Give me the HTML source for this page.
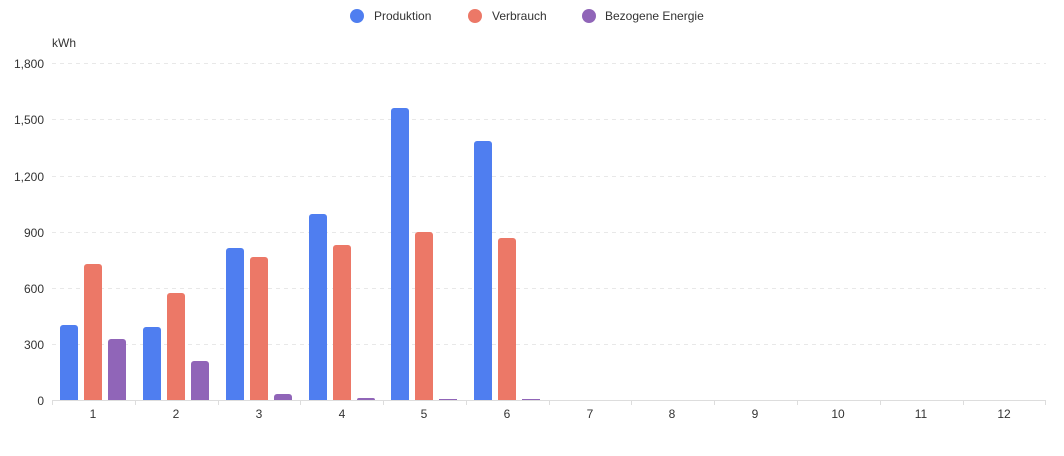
<!DOCTYPE html>
<html><head><meta charset="utf-8"><style>body{margin:0;background:#fff}svg{display:block}text{font-family:"Liberation Sans",sans-serif;font-size:12px;fill:#333}</style></head>
<body>
<svg width="1064" height="456" xmlns="http://www.w3.org/2000/svg">
<g stroke="#e8e8e8" stroke-dasharray="4,4">
<line x1="52" x2="1046" y1="63.5" y2="63.5"/><line x1="52" x2="1046" y1="119.5" y2="119.5"/><line x1="52" x2="1046" y1="176.5" y2="176.5"/><line x1="52" x2="1046" y1="232.5" y2="232.5"/><line x1="52" x2="1046" y1="288.5" y2="288.5"/><line x1="52" x2="1046" y1="344.5" y2="344.5"/>
</g>
<g text-anchor="end">
<text x="44" y="68">1,800</text><text x="44" y="124">1,500</text><text x="44" y="181">1,200</text><text x="44" y="237">900</text><text x="44" y="293">600</text><text x="44" y="349">300</text><text x="44" y="405">0</text>
</g>
<text x="52" y="47">kWh</text>
<g text-anchor="middle">
<text x="93" y="418">1</text><text x="176" y="418">2</text><text x="259" y="418">3</text><text x="342" y="418">4</text><text x="424" y="418">5</text><text x="507" y="418">6</text><text x="590" y="418">7</text><text x="672" y="418">8</text><text x="755" y="418">9</text><text x="838" y="418">10</text><text x="921" y="418">11</text><text x="1004" y="418">12</text>
</g>
<g fill="#4f7ef0">
<path d="M60,400V328a3,3 0 0 1 3,-3h12a3,3 0 0 1 3,3V400z"/>
<path d="M143,400V330a3,3 0 0 1 3,-3h12a3,3 0 0 1 3,3V400z"/>
<path d="M226,400V251a3,3 0 0 1 3,-3h12a3,3 0 0 1 3,3V400z"/>
<path d="M309,400V217a3,3 0 0 1 3,-3h12a3,3 0 0 1 3,3V400z"/>
<path d="M391,400V111a3,3 0 0 1 3,-3h12a3,3 0 0 1 3,3V400z"/>
<path d="M474,400V144a3,3 0 0 1 3,-3h12a3,3 0 0 1 3,3V400z"/>
</g>
<g fill="#ec7867">
<path d="M84,400V267a3,3 0 0 1 3,-3h12a3,3 0 0 1 3,3V400z"/>
<path d="M167,400V296a3,3 0 0 1 3,-3h12a3,3 0 0 1 3,3V400z"/>
<path d="M250,400V260a3,3 0 0 1 3,-3h12a3,3 0 0 1 3,3V400z"/>
<path d="M333,400V248a3,3 0 0 1 3,-3h12a3,3 0 0 1 3,3V400z"/>
<path d="M415,400V235a3,3 0 0 1 3,-3h12a3,3 0 0 1 3,3V400z"/>
<path d="M498,400V241a3,3 0 0 1 3,-3h12a3,3 0 0 1 3,3V400z"/>
</g>
<g fill="#9065b8">
<path d="M108,400V342a3,3 0 0 1 3,-3h12a3,3 0 0 1 3,3V400z"/>
<path d="M191,400V364a3,3 0 0 1 3,-3h12a3,3 0 0 1 3,3V400z"/>
<path d="M274,400V397a3,3 0 0 1 3,-3h12a3,3 0 0 1 3,3V400z"/>
<path d="M357,400V400a2,2 0 0 1 2,-2h14a2,2 0 0 1 2,2V400z"/>
<rect x="439" y="399" width="18" height="1"/><rect x="522" y="399" width="18" height="1"/>
</g>
<line x1="52" x2="1046" y1="400.5" y2="400.5" stroke="#ddd"/>
<g stroke="#ddd">
<line x1="52.5" x2="52.5" y1="400" y2="405"/><line x1="135.5" x2="135.5" y1="400" y2="405"/><line x1="218.5" x2="218.5" y1="400" y2="405"/><line x1="300.5" x2="300.5" y1="400" y2="405"/><line x1="383.5" x2="383.5" y1="400" y2="405"/><line x1="466.5" x2="466.5" y1="400" y2="405"/><line x1="549.5" x2="549.5" y1="400" y2="405"/><line x1="631.5" x2="631.5" y1="400" y2="405"/><line x1="714.5" x2="714.5" y1="400" y2="405"/><line x1="797.5" x2="797.5" y1="400" y2="405"/><line x1="880.5" x2="880.5" y1="400" y2="405"/><line x1="963.5" x2="963.5" y1="400" y2="405"/><line x1="1045.5" x2="1045.5" y1="400" y2="405"/>
</g>
<circle cx="357" cy="16" r="7" fill="#4f7ef0"/><text x="374" y="20">Produktion</text>
<circle cx="475" cy="16" r="7" fill="#ec7867"/><text x="492" y="20">Verbrauch</text>
<circle cx="589" cy="16" r="7" fill="#9065b8"/><text x="605" y="20">Bezogene Energie</text>
</svg>
</body></html>
